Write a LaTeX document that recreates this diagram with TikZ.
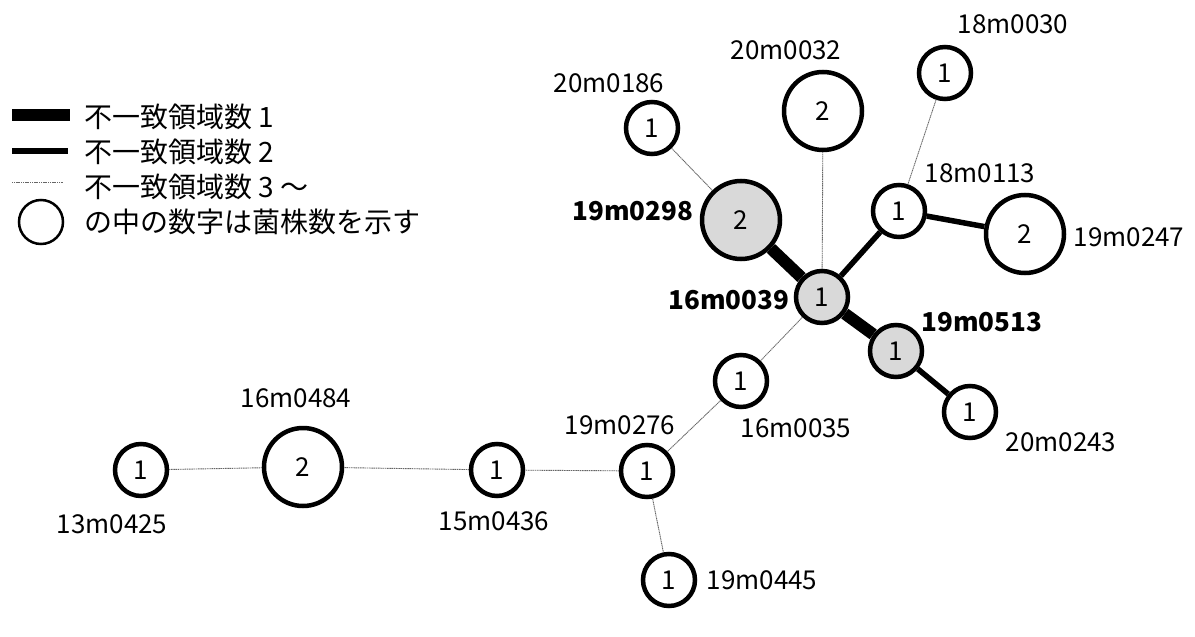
\documentclass[tikz,border=0pt]{standalone}
\usepackage{fontspec}
\setmainfont{Noto Sans CJK JP}
\begin{document}
\begin{tikzpicture}[x=1pt,y=-1pt,
  every node/.style={font=\fontsize{26}{30}\selectfont},
  sm/.style={circle,draw=black,line width=4.5pt,minimum size=52pt,inner sep=0pt,fill=white},
  bg/.style={circle,draw=black,line width=4.5pt,minimum size=78pt,inner sep=0pt,fill=white},
  hl/.style={fill=black!15},
  lbl/.style={inner sep=0pt},
  blbl/.style={inner sep=0pt,font=\fontsize{26}{30}\selectfont\bfseries},
  e1/.style={line width=12pt},
  e2/.style={line width=5.5pt},
  e3/.style={line width=0.9pt,black!60,dash pattern=on 1.2pt off 0.6pt},
  leg/.style={inner sep=0pt,anchor=west,font=\fontsize{28}{32}\selectfont}
]
\useasboundingbox (0,0) rectangle (1195,637);
% nodes
\node[sm]    (n0186) at (652,128) {1};
\node[bg]    (n0032) at (823,111) {2};
\node[sm]    (n0030) at (945,73) {1};
\node[bg,hl] (n0298) at (741,220) {2};
\node[sm]    (n0113) at (899,211) {1};
\node[bg]    (n0247) at (1025,234) {2};
\node[sm,hl] (n0039) at (822,297) {1};
\node[sm,hl] (n0513) at (896,351) {1};
\node[sm]    (n0243) at (970,412) {1};
\node[sm]    (n0035) at (741,381) {1};
\node[sm]    (n0276) at (647,471) {1};
\node[sm]    (n0436) at (497,470) {1};
\node[bg]    (n0484) at (303,467) {2};
\node[sm]    (n0425) at (141,470) {1};
\node[sm]    (n0445) at (669,580) {1};
% labels
\node[lbl]  (l0030) at (1013,24)  {18m0030};
\node[lbl]  (l0032) at (786,50)   {20m0032};
\node[lbl]  (l0186) at (609,83)   {20m0186};
\node[lbl]  (l0113) at (980,173)  {18m0113};
\node[blbl] (l0298) at (633,211)  {19m0298};
\node[lbl]  (l0247) at (1129,237) {19m0247};
\node[blbl] (l0039) at (729,300)  {16m0039};
\node[blbl] (l0513) at (982,322)  {19m0513};
\node[lbl]  (l0035) at (796,428)  {16m0035};
\node[lbl]  (l0243) at (1061,442) {20m0243};
\node[lbl]  (l0276) at (620,425)  {19m0276};
\node[lbl]  (l0484) at (296,398)  {16m0484};
\node[lbl]  (l0425) at (112,524)  {13m0425};
\node[lbl]  (l0436) at (494,521)  {15m0436};
\node[lbl]  (l0445) at (762,580)  {19m0445};
% edges
\draw[e1] (n0298) -- (n0039);
\draw[e1] (n0039) -- (n0513);
\draw[e2] (n0039) -- (n0113);
\draw[e2] (n0113) -- (n0247);
\draw[e2] (n0513) -- (n0243);
\draw[e3] (n0186) -- (n0298);
\draw[e3] (n0032) -- (n0039);
\draw[e3] (n0030) -- (n0113);
\draw[e3] (n0039) -- (n0035);
\draw[e3] (n0035) -- (n0276);
\draw[e3] (n0276) -- (n0436);
\draw[e3] (n0436) -- (n0484);
\draw[e3] (n0484) -- (n0425);
\draw[e3] (n0276) -- (n0445);
% legend
\coordinate (a1) at (12,115);
\coordinate (b1) at (70,115);
\draw[e1] (a1) -- (b1);
\coordinate (a2) at (12,151);
\coordinate (b2) at (68,151);
\draw[e2] (a2) -- (b2);
\coordinate (a3) at (12,182);
\coordinate (b3) at (63,182);
\draw[e3] (a3) -- (b3);
\node[circle,draw=black,line width=2.5pt,minimum size=44pt,inner sep=0pt] (lc) at (41,222) {};
\node[leg] (t1) at (84,117) {不一致領域数 1};
\node[leg] (t2) at (84,152) {不一致領域数 2};
\node[leg] (t3) at (84,187) {不一致領域数 3 ～};
\node[leg] (t4) at (84,222) {の中の数字は菌株数を示す};
\end{tikzpicture}
\end{document}
